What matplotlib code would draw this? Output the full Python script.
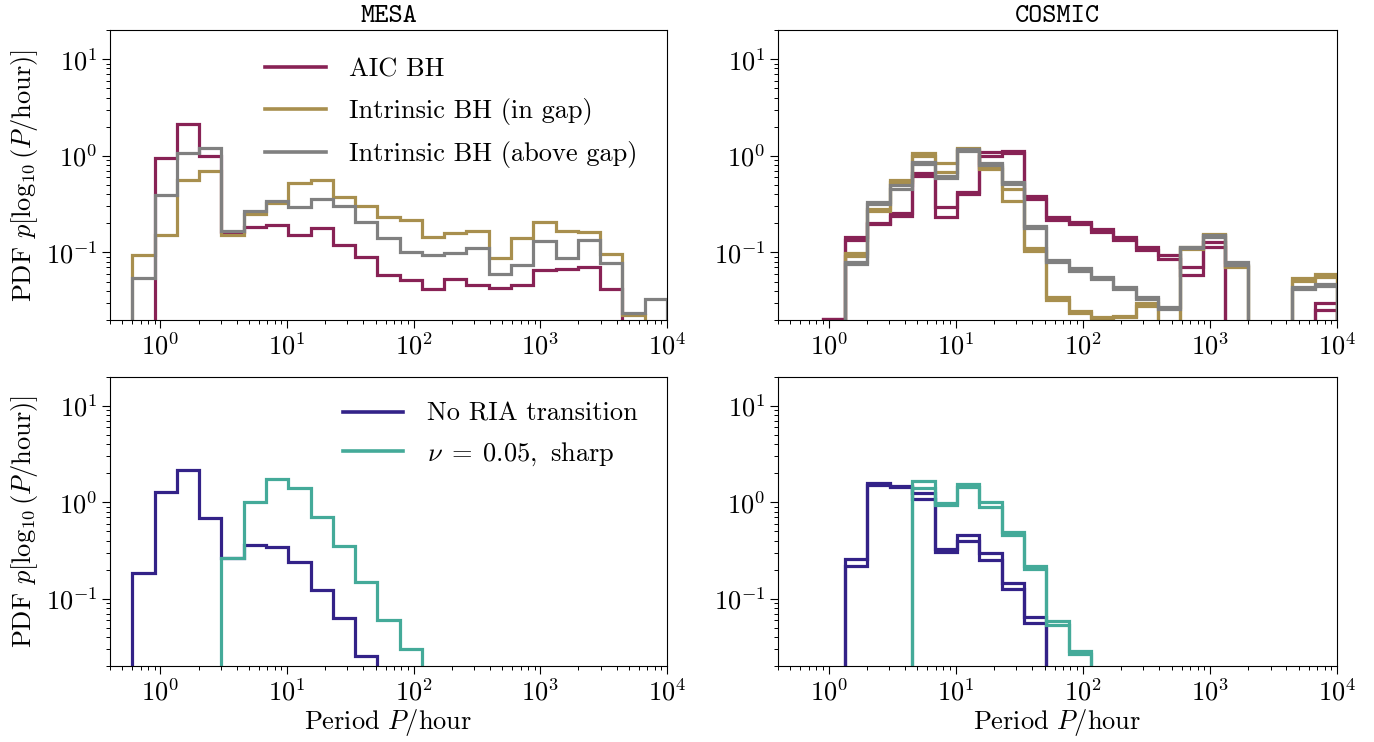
import numpy as np
import matplotlib
matplotlib.use("Agg")
import matplotlib.pyplot as plt
from matplotlib.lines import Line2D
from matplotlib.ticker import LogLocator, NullFormatter

plt.rcParams['font.family'] = 'serif'
plt.rcParams['font.serif'] = ['cmr10']
plt.rcParams['mathtext.fontset'] = 'cm'
plt.rcParams['axes.formatter.use_mathtext'] = True
plt.rcParams['font.size'] = 19

# ---------------- data ----------------
bin_lo, bin_hi, n_bins = 0.6, 1e4, 24
edges = np.logspace(np.log10(bin_lo), np.log10(bin_hi), n_bins + 1)

# MESA (top-left)
mesa_aic = [0, 0.94, 2.11, 1.0, 0.164, 0.184, 0.19, 0.151, 0.177, 0.119, 0.089, 0.058,
            0.052, 0.042, 0.053, 0.046, 0.043, 0.046, 0.066, 0.067, 0.070, 0.042, 0, 0]
mesa_gap = [0.094, 0.151, 0.56, 0.69, 0.151, 0.249, 0.321, 0.526, 0.56, 0.377, 0.301, 0.23,
            0.216, 0.143, 0.157, 0.166, 0.087, 0.14, 0.208, 0.168, 0.161, 0.096, 0.0225, 0]
mesa_above = [0.054, 0.392, 1.07, 1.19, 0.166, 0.268, 0.34, 0.297, 0.353, 0.304, 0.208, 0.14,
              0.10, 0.094, 0.098, 0.11, 0.06, 0.074, 0.132, 0.087, 0.134, 0.077, 0.0234, 0.0327]

# COSMIC (top-right), two realisations each
cosmic_aic_a = [0, 0.0205, 0.144, 0.204, 0.253, 0.656, 0.292, 0.418, 1.10, 1.127, 0.383, 0.23,
                0.208, 0.173, 0.146, 0.115, 0.094, 0.070, 0.129, 0, 0, 0, 0, 0.0301]
cosmic_aic_b = [0, 0.0205, 0.135, 0.195, 0.238, 0.621, 0.234, 0.40, 0.99, 1.057, 0.356, 0.219,
                0.196, 0.164, 0.136, 0.107, 0.085, 0.058, 0.115, 0, 0, 0, 0, 0.0253]
cosmic_gap_a = [0, 0, 0.098, 0.281, 0.56, 1.06, 0.833, 1.19, 0.757, 0.45, 0.11, 0.0348,
                0.0249, 0.0216, 0.022, 0.0301, 0, 0.115, 0.155, 0.073, 0, 0, 0.054, 0.0597]
cosmic_gap_b = [0, 0, 0.0917, 0.268, 0.53, 0.99, 0.683, 1.135, 0.722, 0.342, 0.103, 0.0321,
                0.0234, 0.021, 0.0215, 0.0279, 0, 0.109, 0.150, 0.070, 0, 0, 0.0505, 0.056]
cosmic_above_a = [0, 0, 0.0788, 0.334, 0.497, 0.853, 0.621, 1.17, 0.833, 0.53, 0.189, 0.083,
                  0.0683, 0.056, 0.0441, 0.0348, 0.0274, 0.115, 0.152, 0.0788, 0, 0, 0.044, 0.047]
cosmic_above_b = [0, 0, 0.0751, 0.319, 0.449, 0.813, 0.583, 1.12, 0.794, 0.505, 0.18, 0.079,
                  0.065, 0.0534, 0.0421, 0.0332, 0.0261, 0.11, 0.145, 0.075, 0, 0, 0.042, 0.0448]

# MESA (bottom-left)
mesa_noria = [0.183, 1.29, 2.17, 0.682, 0.262, 0.36, 0.347, 0.242, 0.123, 0.0625, 0.0256, 0,
              0, 0, 0, 0, 0, 0, 0, 0, 0, 0, 0, 0]
mesa_sharp = [0, 0, 0, 0, 0.262, 1.0, 1.73, 1.40, 0.71, 0.355, 0.148, 0.060,
              0.0298, 0, 0, 0, 0, 0, 0, 0, 0, 0, 0, 0]

# COSMIC (bottom-right)
cosmic_noria_a = [0, 0, 0.256, 1.59, 1.49, 1.24, 0.328, 0.458, 0.296, 0.144, 0.064, 0,
                  0, 0, 0, 0, 0, 0, 0, 0, 0, 0, 0, 0]
cosmic_noria_b = [0, 0, 0.218, 1.52, 1.44, 1.09, 0.308, 0.40, 0.252, 0.126, 0.0554, 0,
                  0, 0, 0, 0, 0, 0, 0, 0, 0, 0, 0, 0]
cosmic_sharp_a = [0, 0, 0, 0, 0, 1.66, 0.976, 1.56, 1.0, 0.492, 0.217, 0.0591,
                  0.0289, 0, 0, 0, 0, 0, 0, 0, 0, 0, 0, 0]
cosmic_sharp_b = [0, 0, 0, 0, 0, 1.42, 0.946, 1.43, 0.90, 0.454, 0.201, 0.0528,
                  0.0264, 0, 0, 0, 0, 0, 0, 0, 0, 0, 0, 0]

labels_top = ["AIC BH", "Intrinsic BH (in gap)", "Intrinsic BH (above gap)"]
labels_bot = ["No RIA transition", r"$\nu\;=\;0.05,$ sharp"]
titles = ["MESA", "COSMIC"]

c_red, c_gold, c_gray = "#882255", "#A88F4E", "#808080"
c_blue, c_teal = "#332288", "#44AA99"
lw = 2.3

# ---------------- figure ----------------
fig = plt.figure(figsize=(13.74, 7.42), dpi=100)
W, H = 1374, 742
def add_ax(l, r, t, b):
    return fig.add_axes([l / W, 1 - b / H, (r - l) / W, (b - t) / H])

ax_tl = add_ax(110, 667, 30, 320)
ax_tr = add_ax(778, 1337, 30, 320)
ax_bl = add_ax(110, 667, 377, 666)
ax_br = add_ax(778, 1337, 377, 666)
axes = [ax_tl, ax_tr, ax_bl, ax_br]

def draw(ax, vals, color):
    ax.stairs(vals, edges, baseline=0, color=color, lw=lw, fill=False)

for v, c in zip([mesa_aic, mesa_gap, mesa_above], [c_red, c_gold, c_gray]):
    draw(ax_tl, v, c)
for va, vb, c in zip([cosmic_aic_a, cosmic_gap_a, cosmic_above_a],
                     [cosmic_aic_b, cosmic_gap_b, cosmic_above_b],
                     [c_red, c_gold, c_gray]):
    draw(ax_tr, va, c)
    draw(ax_tr, vb, c)
for v, c in zip([mesa_noria, mesa_sharp], [c_blue, c_teal]):
    draw(ax_bl, v, c)
for va, vb, c in zip([cosmic_noria_a, cosmic_sharp_a], [cosmic_noria_b, cosmic_sharp_b],
                     [c_blue, c_teal]):
    draw(ax_br, va, c)
    draw(ax_br, vb, c)

for ax in axes:
    ax.set_xscale('log')
    ax.set_yscale('log')
    ax.set_xlim(0.4, 1e4)
    ax.set_ylim(0.02, 20)
    ax.xaxis.set_major_locator(LogLocator(base=10, numticks=10))
    ax.xaxis.set_minor_locator(LogLocator(base=10, subs=np.arange(2, 10), numticks=20))
    ax.xaxis.set_minor_formatter(NullFormatter())
    ax.yaxis.set_minor_formatter(NullFormatter())
    ax.tick_params(which='major', length=5.5, width=0.8)
    ax.tick_params(which='minor', length=2.8, width=0.7)
    for s in ax.spines.values():
        s.set_linewidth(0.8)

ax_tl.set_title(titles[0], family='cmtt10', fontsize=19.5)
ax_tr.set_title(titles[1], family='cmtt10', fontsize=19.5)

ylab = r"PDF $p[\log_{10}(P/\mathrm{hour})]$"
ax_tl.set_ylabel(ylab)
ax_bl.set_ylabel(ylab)
ax_bl.set_xlabel(r"Period $P/\mathrm{hour}$", labelpad=1)
ax_br.set_xlabel(r"Period $P/\mathrm{hour}$", labelpad=1)

h_top = [Line2D([], [], color=c, lw=lw + 0.3) for c in [c_red, c_gold, c_gray]]
ax_tl.legend(h_top, labels_top, loc='upper left', bbox_to_anchor=(0.259, 0.94),
             frameon=False, borderaxespad=0, handlelength=2.3, handletextpad=0.9,
             labelspacing=0.62)
h_bot = [Line2D([], [], color=c, lw=lw + 0.3) for c in [c_blue, c_teal]]
ax_bl.legend(h_bot, labels_bot, loc='upper left', bbox_to_anchor=(0.399, 0.95),
             frameon=False, borderaxespad=0, handlelength=2.3, handletextpad=0.9,
             labelspacing=0.55)

fig.savefig("out.png", dpi=100)
